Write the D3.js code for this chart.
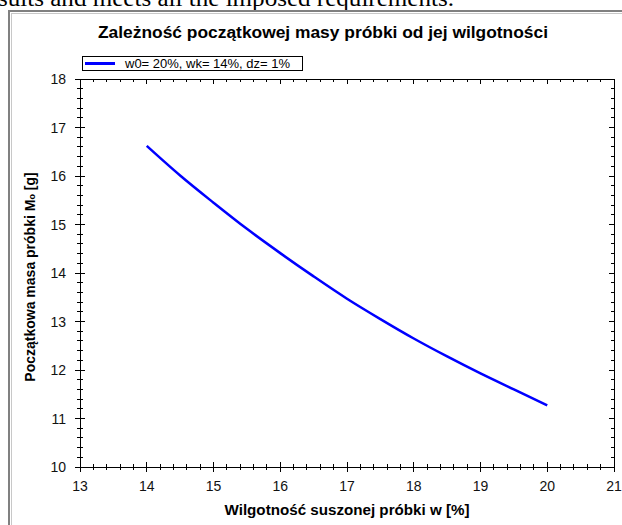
<!DOCTYPE html>
<html>
<head>
<meta charset="utf-8">
<script src="https://cdn.jsdelivr.net/npm/d3@7"></script>
<style>
  body { margin: 0; background: #fff; }
  svg { display: block; }
</style>
</head>
<body>
<script>
// data
const moisture = [14, 14.5, 15, 15.5, 16, 16.5, 17, 17.5, 18, 18.5, 19, 19.5, 20]
const initialMass = [16.62, 16.01, 15.45, 14.91, 14.41, 13.93, 13.47, 13.05, 12.65, 12.28, 11.93, 11.6, 11.27]
const xTicks = [13, 14, 15, 16, 17, 18, 19, 20, 21]
const yTicks = [10, 11, 12, 13, 14, 15, 16, 17, 18]
const legendLabel = 'w0= 20%, wk= 14%, dz= 1%'

const fullWidth = 622
const fullHeight = 525
const margin = { top: 79, right: 8, bottom: 58, left: 80 }
const lineColor = '#0000ff'

const svg = d3.select('body')
  .append('svg')
  .attr('width', fullWidth)
  .attr('height', fullHeight)
  .style('font-family', 'Liberation Sans, Arial, sans-serif')

// bit of document text sticking out above the figure
svg.append('text')
  .attr('x', -2)
  .attr('y', 6)
  .attr('font-family', 'Liberation Serif, Times New Roman, serif')
  .attr('font-size', 24)
  .attr('textLength', 456)
  .attr('lengthAdjust', 'spacingAndGlyphs')
  .text('sults and meets all the imposed requirements.')

// gray frame round the figure
svg.append('rect')
  .attr('x', 9).attr('y', 11)
  .attr('width', 640).attr('height', 540)
  .attr('fill', 'none')
  .attr('stroke', '#808080')
  .attr('stroke-width', 2)
svg.append('rect')
  .attr('x', 11.5).attr('y', 13.5)
  .attr('width', 640).attr('height', 540)
  .attr('fill', 'none')
  .attr('stroke', '#c8c8c8')
  .attr('stroke-width', 1)

const x = d3.scaleLinear()
  .domain([13, 21])
  .range([margin.left, fullWidth - margin.right])

const y = d3.scaleLinear()
  .domain([10, 18])
  .range([fullHeight - margin.bottom, margin.top])

const minorX = d3.range(13, 21.001, 0.2).filter(v => Math.abs(v - Math.round(v)) > 0.01)
const minorY = d3.range(10, 18.001, 0.2).filter(v => Math.abs(v - Math.round(v)) > 0.01)

const x0 = x.range()[0], x1 = x.range()[1]
const y0 = y.range()[0], y1 = y.range()[1]

const g = svg.append('g')
  .attr('stroke', '#000')
  .attr('stroke-width', 1)
  .attr('shape-rendering', 'crispEdges')

// box
g.append('rect')
  .attr('x', x0).attr('y', y1)
  .attr('width', x1 - x0).attr('height', y0 - y1)
  .attr('fill', 'none')

// bottom axis, ticks across the line
g.selectAll('.xmaj')
  .data(xTicks)
  .enter().append('line')
  .attr('x1', d => x(d)).attr('x2', d => x(d))
  .attr('y1', y0 - 5).attr('y2', y0 + 5)
g.selectAll('.xmin')
  .data(minorX)
  .enter().append('line')
  .attr('x1', d => x(d)).attr('x2', d => x(d))
  .attr('y1', y0 - 3).attr('y2', y0 + 3)

// top axis, ticks inward
g.selectAll('.tmaj')
  .data(xTicks)
  .enter().append('line')
  .attr('x1', d => x(d)).attr('x2', d => x(d))
  .attr('y1', y1).attr('y2', y1 + 5)
g.selectAll('.tmin')
  .data(minorX)
  .enter().append('line')
  .attr('x1', d => x(d)).attr('x2', d => x(d))
  .attr('y1', y1).attr('y2', y1 + 3)

// left axis
g.selectAll('.ymaj')
  .data(yTicks)
  .enter().append('line')
  .attr('y1', d => y(d)).attr('y2', d => y(d))
  .attr('x1', x0 - 5).attr('x2', x0 + 5)
g.selectAll('.ymin')
  .data(minorY)
  .enter().append('line')
  .attr('y1', d => y(d)).attr('y2', d => y(d))
  .attr('x1', x0 - 3).attr('x2', x0 + 3)

// right axis, ticks inward
g.selectAll('.rmaj')
  .data(yTicks)
  .enter().append('line')
  .attr('y1', d => y(d)).attr('y2', d => y(d))
  .attr('x1', x1 - 5).attr('x2', x1)
g.selectAll('.rmin')
  .data(minorY)
  .enter().append('line')
  .attr('y1', d => y(d)).attr('y2', d => y(d))
  .attr('x1', x1 - 3).attr('x2', x1)

// tick labels
svg.selectAll('.xlab')
  .data(xTicks)
  .enter().append('text')
  .attr('x', d => x(d))
  .attr('y', y0 + 24)
  .attr('text-anchor', 'middle')
  .attr('font-size', 14)
  .attr('fill', '#111')
  .text(d => d)

svg.selectAll('.ylab')
  .data(yTicks)
  .enter().append('text')
  .attr('x', x0 - 14)
  .attr('y', d => y(d) + 5)
  .attr('text-anchor', 'end')
  .attr('font-size', 14)
  .attr('fill', '#111')
  .text(d => d)

// curve
const line = d3.line()
  .x(d => x(d[0]))
  .y(d => y(d[1]))
  .curve(d3.curveCatmullRom)

svg.append('path')
  .datum(moisture.map((m, i) => [m, initialMass[i]]))
  .attr('fill', 'none')
  .attr('stroke', lineColor)
  .attr('stroke-width', 2.5)
  .attr('d', line)

// title
svg.append('text')
  .attr('x', 323)
  .attr('y', 38)
  .attr('text-anchor', 'middle')
  .attr('font-size', 16)
  .attr('font-weight', 'bold')
  .attr('textLength', 450)
  .attr('lengthAdjust', 'spacingAndGlyphs')
  .text('Zależność początkowej masy próbki od jej wilgotności')

// legend
svg.append('rect')
  .attr('x', 82.5).attr('y', 56.5)
  .attr('width', 220).attr('height', 14)
  .attr('fill', '#fff')
  .attr('stroke', '#000')
  .attr('stroke-width', 1)
svg.append('line')
  .attr('x1', 85).attr('x2', 115)
  .attr('y1', 63.5).attr('y2', 63.5)
  .attr('stroke', lineColor)
  .attr('stroke-width', 3)
svg.append('text')
  .attr('x', 125)
  .attr('y', 67.5)
  .attr('font-size', 12)
  .attr('textLength', 165)
  .attr('lengthAdjust', 'spacingAndGlyphs')
  .text(legendLabel)

// axis titles
svg.append('text')
  .attr('x', (x0 + x1) / 2)
  .attr('y', 515)
  .attr('text-anchor', 'middle')
  .attr('font-size', 14)
  .attr('font-weight', 'bold')
  .attr('textLength', 245)
  .attr('lengthAdjust', 'spacingAndGlyphs')
  .text('Wilgotność suszonej próbki w [%]')

const yTitle = svg.append('text')
  .attr('transform', `translate(35,${(y0 + y1) / 2 + 4}) rotate(-90)`)
  .attr('text-anchor', 'middle')
  .attr('font-size', 14)
  .attr('font-weight', 'bold')
yTitle.append('tspan').text('Początkowa masa próbki M')
yTitle.append('tspan').attr('font-size', 9).text('o')
yTitle.append('tspan').text(' [g]')
</script>
</body>
</html>
